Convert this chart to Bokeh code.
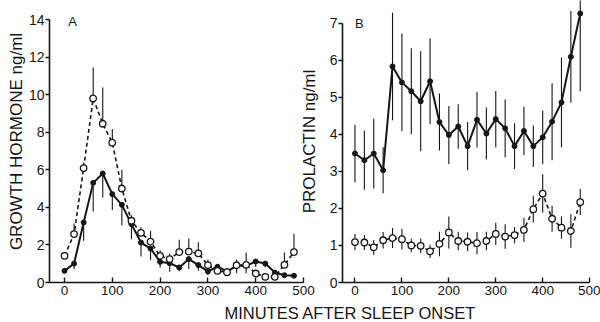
from bokeh.plotting import figure
from bokeh.models import FixedTicker, Label, Range1d
from bokeh.layouts import row, column
from bokeh.embed import file_html
from bokeh.resources import INLINE

# ---------------- data ----------------
minutes = [0, 20, 40, 60, 80, 100, 120, 140, 160, 180, 200, 220, 240,
           260, 280, 300, 320, 340, 360, 380, 400, 420, 440, 460, 480]

# Panel A: growth hormone (ng/ml)
gh_open = [1.42, 2.58, 6.10, 9.81, 8.46, 7.45, 5.01, 3.29, 2.65, 2.18, 1.42, 1.25, 1.62,
           1.65, 1.55, 0.93, 0.62, 0.55, 0.92, 0.94, 0.48, 0.30, 0.30, 0.94, 1.62]
gh_open_err = [0.20, 0.57, 0.30, 1.65, 1.93, 0.73, 0.98, 0.30, 0.30, 0.57, 0.30, 0.30, 0.66,
               0.70, 0.60, 0.30, 0.20, 0.20, 0.30, 0.66, 0.20, 0.10, 0.10, 0.66, 0.98]
gh_fill = [0.62, 1.01, 3.20, 5.31, 5.81, 4.71, 4.14, 3.11, 2.13, 1.81, 1.10, 1.03, 0.80,
           1.25, 0.93, 0.59, 0.84, 0.59, 0.89, 0.89, 1.12, 1.01, 0.53, 0.39, 0.36]
gh_fill_err = [0.10, 0.30, 0.98, 1.53, 1.28, 0.85, 1.10, 0.80, 0.75, 0.62, 0.30, 0.46, 0.20,
               0.53, 0.30, 0.20, 0.30, 0.20, 0.40, 0.40, 0.30, 0.20, 0.20, 0.10, 0.10]

# Panel B: prolactin (ng/ml)
prl_fill = [3.48, 3.30, 3.48, 3.03, 5.83, 5.40, 5.16, 4.89, 5.43, 4.33, 3.98, 4.21, 3.68,
            4.39, 4.02, 4.41, 4.16, 3.68, 4.09, 3.68, 3.92, 4.34, 4.86, 6.09, 7.26]
prl_fill_err = [0.78, 0.80, 0.94, 0.62, 1.45, 1.32, 1.16, 1.35, 1.16, 0.77, 0.78, 0.60, 0.65,
                0.75, 0.70, 0.76, 0.78, 0.62, 0.65, 0.56, 0.72, 1.04, 1.21, 1.24, 2.10]
prl_open = [1.09, 1.08, 0.95, 1.14, 1.20, 1.17, 1.00, 0.99, 0.84, 1.04, 1.35, 1.12, 1.10,
            1.06, 1.12, 1.31, 1.24, 1.28, 1.42, 1.98, 2.40, 1.72, 1.48, 1.39, 2.17]
prl_open_err = [0.22, 0.20, 0.20, 0.22, 0.27, 0.28, 0.18, 0.20, 0.18, 0.33, 0.43, 0.25, 0.25,
                0.30, 0.25, 0.30, 0.33, 0.22, 0.33, 0.36, 0.52, 0.35, 0.30, 0.45, 0.35]

x_ticks = [0, 100, 200, 300, 400, 500]
gh_ticks = [0, 2, 4, 6, 8, 10, 12, 14]
prl_ticks = [0, 1, 2, 3, 4, 5, 6, 7]

INK = "#161616"
FONT = "Liberation Sans"


def style(p, xbounds, ybounds, yticks, ylabel, label_standoff):
    p.grid.visible = False
    p.outline_line_color = None
    p.background_fill_color = None
    p.border_fill_color = None
    for ax in (p.xaxis[0], p.yaxis[0]):
        ax.axis_line_color = INK
        ax.axis_line_width = 1.6
        ax.major_tick_line_color = INK
        ax.major_tick_line_width = 1.4
        ax.minor_tick_line_color = None
        ax.major_label_text_font = FONT
        ax.major_label_text_color = INK
    xa = p.xaxis[0]
    xa.ticker = FixedTicker(ticks=x_ticks)
    xa.bounds = xbounds
    xa.major_tick_in = 5
    xa.major_tick_out = 0
    xa.major_label_standoff = 3
    xa.major_label_text_font_size = "13.5px"
    ya = p.yaxis[0]
    ya.ticker = FixedTicker(ticks=yticks)
    ya.bounds = ybounds
    ya.major_tick_in = 0
    ya.major_tick_out = 4
    ya.major_label_standoff = 1
    ya.major_label_text_font_size = "14px"
    ya.axis_label = ylabel
    ya.axis_label_text_font = FONT
    ya.axis_label_text_font_style = "normal"
    ya.axis_label_text_font_size = "17px"
    ya.axis_label_text_color = INK
    ya.axis_label_standoff = label_standoff


# ---------------- Panel A ----------------
ax0, ax1 = -31.4, 514.6
pA = figure(width=316, height=302, x_range=Range1d(ax0, ax1), y_range=Range1d(0, 15.03),
            min_border_left=49, min_border_right=6, min_border_top=0, min_border_bottom=20,
            toolbar_location=None, output_backend="svg")
style(pA, (ax0, 500), (0, 14), gh_ticks, "GROWTH HORMONE ng/ml", 0)

gh_open_top = [v + e for v, e in zip(gh_open, gh_open_err)]
gh_fill_bot = [v - e for v, e in zip(gh_fill, gh_fill_err)]
pA.segment(x0=minutes, y0=gh_open, x1=minutes, y1=gh_open_top, line_color=INK, line_width=1.1)
pA.segment(x0=minutes, y0=gh_fill_bot, x1=minutes, y1=gh_fill, line_color=INK, line_width=1.1)
pA.line(minutes, gh_open, line_color=INK, line_width=1.6, line_dash="4 3")
pA.line(minutes, gh_fill, line_color=INK, line_width=2.0)
pA.scatter(minutes, gh_fill, size=5, marker="circle", fill_color=INK, line_color=INK)
pA.scatter(minutes, gh_open, size=6.5, marker="circle", fill_color="white", line_color=INK,
           line_width=1.3)
pA.add_layout(Label(x=8, y=13.9, text="A", text_baseline="middle", text_font=FONT,
                    text_font_size="13px", text_color=INK))

# ---------------- Panel B ----------------
bx0, bx1 = -26.6, 518.9
pB = figure(width=304, height=302, x_range=Range1d(bx0, bx1), y_range=Range1d(0, 7.61),
            min_border_left=42, min_border_right=2, min_border_top=0, min_border_bottom=20,
            toolbar_location=None, output_backend="svg")
style(pB, (bx0, 500), (0, 7), prl_ticks, "PROLACTIN ng/ml", 8)
pB.margin = (0, 0, 0, -20)

pB.segment(x0=minutes, y0=[v - e for v, e in zip(prl_fill, prl_fill_err)], x1=minutes,
           y1=[v + e for v, e in zip(prl_fill, prl_fill_err)], line_color=INK, line_width=1.1)
pB.segment(x0=minutes, y0=[v - e for v, e in zip(prl_open, prl_open_err)], x1=minutes,
           y1=[v + e for v, e in zip(prl_open, prl_open_err)], line_color=INK, line_width=1.1)
pB.line(minutes, prl_open, line_color=INK, line_width=1.6, line_dash="4 3")
pB.line(minutes, prl_fill, line_color=INK, line_width=2.0)
pB.scatter(minutes, prl_fill, size=5, marker="circle", fill_color=INK, line_color=INK)
pB.scatter(minutes, prl_open, size=6.5, marker="circle", fill_color="white", line_color=INK,
           line_width=1.3)
pB.add_layout(Label(x=0, y=6.98, text="B", text_baseline="middle", text_font=FONT,
                    text_font_size="13px", text_color=INK))

# ---------------- shared x label (overlaps the row above, transparent) ----------------
pX = figure(width=600, height=60, x_range=Range1d(0, 600), y_range=Range1d(0, 60),
            min_border=0, toolbar_location=None, output_backend="svg")
pX.axis.visible = False
pX.grid.visible = False
pX.outline_line_color = None
pX.background_fill_color = None
pX.border_fill_color = None
pX.margin = (-40, 0, 0, 0)
pX.add_layout(Label(x=350, y=10, text="MINUTES AFTER SLEEP ONSET", text_align="center",
                    text_baseline="alphabetic", text_font=FONT, text_font_size="16.5px",
                    text_color=INK))

layout = column(row(pA, pB), pX)
open("out.html", "w").write(file_html(layout, INLINE))
